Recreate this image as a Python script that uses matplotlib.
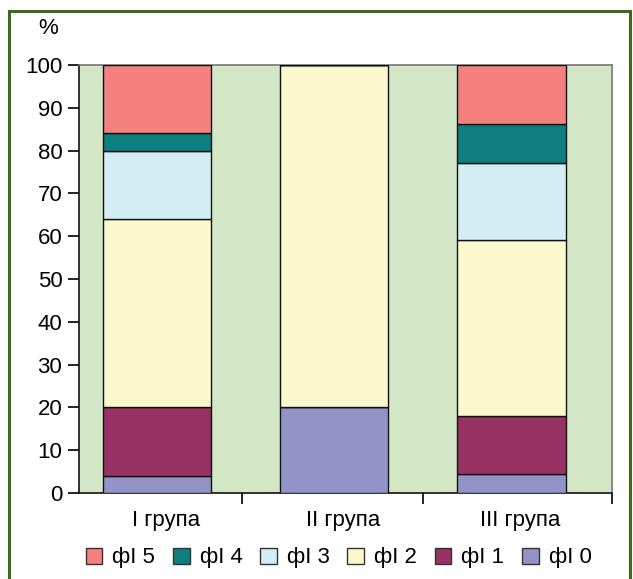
import matplotlib.pyplot as plt
from matplotlib.lines import Line2D
import numpy as np

plt.rcParams['font.family'] = ['Liberation Sans', 'DejaVu Sans']

groups = ['I група', 'II група', 'III група']
series = ['фІ 0', 'фІ 1', 'фІ 2', 'фІ 3', 'фІ 4', 'фІ 5']
f0 = [4, 20, 4.5]
f1 = [16, 0, 13.6]
f2 = [44, 80, 40.9]
f3 = [16, 0, 18.2]
f4 = [4, 0, 9.1]
f5 = [16, 0, 13.7]
colors = ['#9393c8', '#983264', '#fbf8cd', '#d4ecf3', '#0e7f7f', '#f48080']

fig = plt.figure(figsize=(6.33, 5.79), dpi=100)
ax = fig.add_axes([79 / 633, 1 - 493 / 579, (612 - 79) / 633, (493 - 65) / 579])
ax.set_facecolor('#d3e6c6')

x = np.arange(len(groups))
bottom = np.zeros(len(groups))
handles = []
for vals, name, c in zip([f0, f1, f2, f3, f4, f5], series, colors):
    vals = np.array(vals)
    b = ax.bar(x, vals, width=0.61, bottom=bottom, color=c, edgecolor='#111111',
               linewidth=1.0, label=name, zorder=3)
    handles.append(b)
    bottom += vals

ax.set_xlim(-0.44, 2.567)
ax.set_ylim(0, 100)
ax.set_yticks(range(0, 101, 10))
ax.tick_params(axis='y', labelsize=16, length=8, width=1.2, pad=4)
ax.set_xticks(x + 0.05)
ax.set_xticklabels(groups)
ax.tick_params(axis='x', which='major', length=0, labelsize=16, pad=12)
ax.set_xticks([0.48, 1.5, 2.567], minor=True)
ax.tick_params(axis='x', which='minor', length=8, width=1.2)

for s in ['top', 'right']:
    ax.spines[s].set_color('#777777')
    ax.spines[s].set_linewidth(1.2)
for s in ['left', 'bottom']:
    ax.spines[s].set_color('#111111')
    ax.spines[s].set_linewidth(1.2)

fig.text(48 / 633, 1 - 28 / 579, '%', fontsize=16, ha='center', va='center')

leg = fig.legend(handles[::-1], series[::-1], loc='center', bbox_to_anchor=(0.535, 1 - 558 / 579),
                 ncol=6, frameon=False, fontsize=16, handlelength=0.75, handleheight=0.75,
                 handletextpad=0.45, columnspacing=0.8)
for p in leg.get_patches():
    p.set_edgecolor('#333333')

# green frame
fc = '#3f6a1e'
fig.add_artist(Line2D([9 / 633, 9 / 633], [0, 1 - 11 / 579], color=fc, lw=2.2, transform=fig.transFigure))
fig.add_artist(Line2D([9 / 633, 630 / 633], [1 - 11 / 579, 1 - 11 / 579], color=fc, lw=2.2, transform=fig.transFigure))
fig.add_artist(Line2D([630 / 633, 630 / 633], [0, 1 - 11 / 579], color=fc, lw=2.2, transform=fig.transFigure))

fig.savefig('out.png', dpi=100)
